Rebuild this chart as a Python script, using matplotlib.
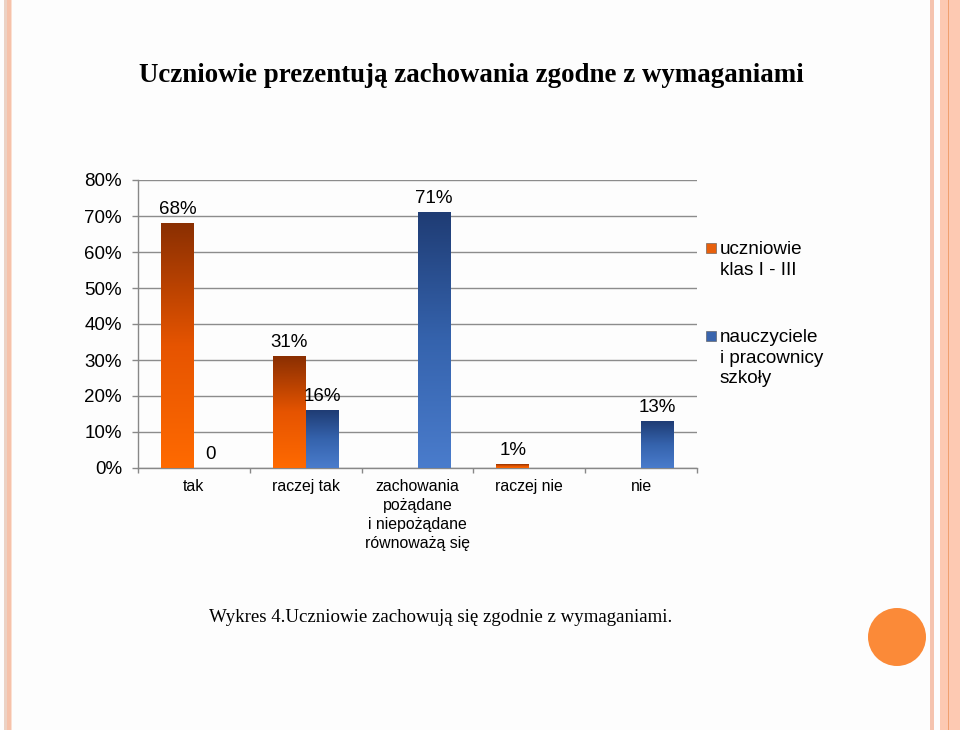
import matplotlib
matplotlib.use("Agg")
import matplotlib.pyplot as plt
import numpy as np
from matplotlib.colors import LinearSegmentedColormap
from matplotlib.patches import Rectangle, Ellipse

categories = ["tak", "raczej tak", "zachowania\npożądane\ni niepożądane\nrównoważą się", "raczej nie", "nie"]
series_names = ["uczniowie\nklas I - III", "nauczyciele\ni pracownicy\nszkoły"]
uczniowie = [0.68, 0.31, 0.0, 0.01, 0.0]
nauczyciele = [0.0, 0.16, 0.71, 0.0, 0.13]
uczniowie_labels = ["68%", "31%", None, "1%", None]
nauczyciele_labels = ["0", "16%", "71%", None, "13%"]
yticks = [0.0, 0.1, 0.2, 0.3, 0.4, 0.5, 0.6, 0.7, 0.8]
ytick_labels = ["0%", "10%", "20%", "30%", "40%", "50%", "60%", "70%", "80%"]
title = "Uczniowie prezentują zachowania zgodne z wymaganiami"
caption = "Wykres 4.Uczniowie zachowują się zgodnie z wymaganiami."

SANS = ["Liberation Sans", "DejaVu Sans"]
SERIF = ["Liberation Serif", "DejaVu Serif"]

W, H = 960, 730
fig = plt.figure(figsize=(W / 100, H / 100), dpi=100, facecolor="#fdfdfd")

# decorative stripes
def frect(x0, x1, color):
    fig.patches.append(Rectangle((x0 / W, 0), (x1 - x0) / W, 1, transform=fig.transFigure,
                                 facecolor=color, edgecolor="none", zorder=0))
frect(4, 7, "#ecd2c4")
frect(7, 10.5, "#f6c2aa")
frect(10.5, 11.5, "#fbe0d2")
frect(930, 934, "#f5c3ae")
frect(940, 960, "#fdc9b2")
frect(947.5, 949, "#f0a070")
fig.patches.append(Ellipse((897 / W, 1 - 637 / H), 58 / W, 58 / H, transform=fig.transFigure,
                           facecolor="#fb8a38", edgecolor="none", zorder=1))

ax = fig.add_axes([138 / W, 1 - 468 / H, (697 - 138) / W, (468 - 180) / H])
ax.set_facecolor("none")

x = np.arange(len(categories))
bw = 0.295
b1 = ax.bar(x - bw / 2, uczniowie, bw, color="#e05a10", zorder=2)
b2 = ax.bar(x + bw / 2, nauczyciele, bw, color="#2f5596", zorder=2)

cm_or = LinearSegmentedColormap.from_list("or", ["#ff6a00", "#e65400", "#8a2f02"])
cm_bl = LinearSegmentedColormap.from_list("bl", ["#4a7ccc", "#3563ad", "#1f3c74"])
grad = np.linspace(0, 1, 256).reshape(-1, 1)
for bars, cm in ((b1, cm_or), (b2, cm_bl)):
    for r in bars:
        h = r.get_height()
        if h <= 0:
            continue
        x0 = r.get_x()
        ax.imshow(grad, extent=[x0, x0 + r.get_width(), 0, h], origin="lower",
                  aspect="auto", cmap=cm, zorder=3, interpolation="bicubic")

for bars, labs in ((b1, uczniowie_labels), (b2, nauczyciele_labels)):
    for r, lab in zip(bars, labs):
        if lab is None:
            continue
        ax.annotate(lab, (r.get_x() + r.get_width() / 2, r.get_height()),
                    xytext=(0, 6.5), textcoords="offset points", ha="center",
                    va="baseline", fontsize=13.5, family=SANS, color="black", zorder=5)

ax.set_xlim(-0.5, len(categories) - 0.5)
ax.set_ylim(0, 0.8)
ax.set_yticks(yticks)
ax.set_yticklabels(ytick_labels, family=SANS, fontsize=13.5)
ax.tick_params(axis="y", length=6 * 0.72, width=1, color="#888888", pad=7.2)
ax.grid(axis="y", color="#8c8c8c", linewidth=1.0, zorder=0)
ax.set_axisbelow(True)

ax.set_xticks(np.arange(len(categories) + 1) - 0.5)
ax.set_xticklabels([])
ax.set_xticks(x, minor=True)
ax.set_xticklabels(categories, minor=True, family=SANS, fontsize=11.4, linespacing=1.32)
ax.tick_params(axis="x", which="major", length=5 * 0.72, width=1, color="#888888")
ax.tick_params(axis="x", which="minor", length=0, pad=8)

for s in ("top", "right"):
    ax.spines[s].set_visible(False)
for s in ("left", "bottom"):
    ax.spines[s].set_color("#888888")
    ax.spines[s].set_linewidth(1.0)

# legend (manual)
leg_items = [(series_names[0], "#e8600c", 243), (series_names[1], "#3a65ad", 331)]
for name, col, ytop in leg_items:
    fig.patches.append(Rectangle((706 / W, 1 - (ytop + 10) / H), 10 / W, 10 / H,
                                 transform=fig.transFigure, facecolor=col,
                                 edgecolor="#555555", linewidth=0.4, zorder=3))
    fig.text(720 / W, 1 - (ytop - 2) / H, name, ha="left", va="top", fontsize=13.6,
             family=SANS, linespacing=1.27)

fig.text(471.5 / W, 1 - 75 / H, title, ha="center", va="center", fontsize=19.4,
         fontweight="bold", family=SERIF)
fig.text(441 / W, 1 - 618 / H, caption, ha="center", va="center", fontsize=13.55,
         family=SERIF)

fig.savefig("out.png", dpi=100, facecolor=fig.get_facecolor())
